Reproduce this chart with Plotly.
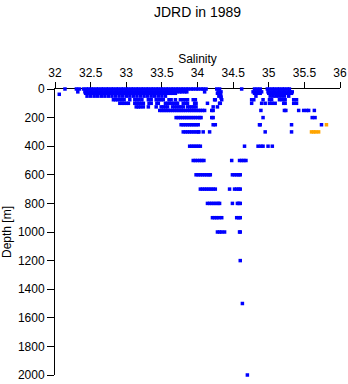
import plotly.graph_objects as go

# Salinity readings per sampling depth (m), JDRD cruise 1989
sal_0 = [32.14, 32.30, 32.34, 32.40, 32.44, 32.47, 32.51, 32.54, 32.58, 32.61, 32.65, 32.68,
         32.72, 32.75, 32.79, 32.82, 32.86, 32.89, 32.93, 32.96, 33.00, 33.03, 33.07, 33.10,
         33.14, 33.17, 33.21, 33.24, 33.28, 33.31, 33.35, 33.38, 33.42, 33.45, 33.49, 33.52,
         33.56, 33.59, 33.63, 33.66, 33.70, 33.73, 33.77, 33.80, 33.84, 33.87, 33.91, 33.94,
         33.98, 34.01, 34.05, 34.08, 34.12, 34.27, 34.31, 34.62, 34.80, 34.84, 34.88, 34.98,
         35.01, 35.05, 35.08, 35.12, 35.15, 35.19, 35.22, 35.26, 35.29]
sal_20 = [32.32, 32.42, 32.45, 32.49, 32.52, 32.56, 32.59, 32.63, 32.66, 32.70, 32.73, 32.77,
          32.80, 32.84, 32.87, 32.91, 32.94, 32.98, 33.01, 33.05, 33.08, 33.12, 33.15, 33.19,
          33.22, 33.26, 33.29, 33.33, 33.36, 33.40, 33.43, 33.47, 33.50, 33.54, 33.57, 33.61,
          33.64, 33.68, 33.71, 33.75, 33.78, 33.82, 33.85, 34.10, 34.29, 34.33, 34.78, 34.82,
          34.86, 34.90, 34.99, 35.02, 35.06, 35.09, 35.13, 35.16, 35.20, 35.23, 35.27, 35.30, 35.33]
sal_30 = [32.43, 32.46, 32.50, 32.53, 32.57, 32.60, 32.64, 32.67, 32.71, 32.74, 32.78, 32.81,
          32.85, 32.88, 32.92, 32.95, 32.99, 33.02, 33.06, 33.09, 33.13, 33.16, 33.20, 33.23,
          33.27, 33.30, 33.34, 33.37, 33.41, 33.44, 33.48, 33.51, 33.55, 33.58, 33.62, 33.65,
          33.69, 34.28, 34.32, 34.80, 34.84, 34.88, 35.00, 35.04, 35.07, 35.11, 35.14, 35.18,
          35.21, 35.25, 35.28, 35.32]
sal_37 = [32.06]
sal_50 = [32.45, 32.50, 32.55, 32.60, 32.65, 32.70, 32.75, 32.80, 32.85, 32.90, 32.95, 33.00,
          33.05, 33.10, 33.15, 33.20, 33.25, 33.30, 33.35, 33.40, 33.45, 33.50, 33.55, 34.30,
          34.33, 34.82, 35.02, 35.06, 35.10, 35.14, 35.18, 35.22, 35.28]
sal_62 = [34.33]
sal_75 = [32.82, 32.85, 32.88, 32.91, 32.94, 32.97, 33.05, 33.12, 33.15, 33.18, 33.22, 33.31,
          33.35, 33.42, 33.46, 33.49, 33.52, 33.60, 33.63, 33.69, 33.76, 33.80, 33.84, 33.86,
          33.94, 33.97, 34.24, 34.25, 34.34, 34.76, 34.79, 34.92, 35.01, 35.04, 35.15, 35.19,
          35.23, 35.35, 35.39]
sal_100 = [32.91, 32.94, 32.97, 33.00, 33.03, 33.12, 33.15, 33.18, 33.21, 33.24, 33.32, 33.35,
           33.43, 33.45, 33.55, 33.58, 33.61, 33.64, 33.67, 33.70, 33.72, 33.80, 33.83, 33.86,
           33.96, 33.98, 34.14, 34.31, 34.32, 34.76, 34.90, 34.95, 35.01, 35.05, 35.09, 35.21,
           35.23, 35.35, 35.39]
sal_125 = [33.14, 33.17, 33.20, 33.24, 33.31, 33.42, 33.49, 33.52, 33.55, 33.58, 33.65, 33.68,
           33.71, 33.74, 33.77, 33.80, 33.86, 33.89, 33.92, 33.95, 33.98, 34.22, 34.28]
sal_150 = [33.47, 33.50, 33.53, 33.56, 33.59, 33.62, 33.65, 33.68, 33.71, 33.74, 33.77, 33.80,
           33.83, 33.86, 33.89, 33.92, 33.95, 33.98, 34.01, 34.04, 34.07, 34.10, 34.20, 34.22,
           34.89, 35.22, 35.24, 35.42, 35.49, 35.53, 35.56, 35.64]
sal_200 = [33.70, 33.73, 33.76, 33.79, 33.82, 33.85, 33.88, 33.91, 33.94, 33.97, 34.00, 34.03,
           34.05, 34.20, 34.22, 34.92, 35.61, 35.65]
sal_250 = [33.77, 33.80, 33.83, 33.86, 33.89, 33.92, 33.95, 33.98, 34.01, 34.22, 34.25, 34.87,
           34.88, 35.32, 35.74]
sal_300 = [33.80, 33.83, 33.86, 33.89, 33.92, 33.95, 33.98, 34.01, 34.02, 34.08, 34.17, 34.95,
           35.32]
sal_400 = [33.89, 33.92, 33.95, 33.98, 34.01, 34.04, 34.66, 34.85, 34.89, 34.92, 34.99, 35.05]
sal_500 = [33.94, 33.97, 34.00, 34.03, 34.06, 34.09, 34.48, 34.59, 34.62, 34.65, 34.68]
sal_600 = [33.98, 34.01, 34.04, 34.07, 34.10, 34.13, 34.16, 34.18, 34.49, 34.52, 34.55, 34.58,
           34.60]
sal_700 = [34.04, 34.07, 34.10, 34.13, 34.16, 34.19, 34.22, 34.25, 34.45, 34.52, 34.55, 34.58,
           34.60]
sal_800 = [34.14, 34.17, 34.20, 34.23, 34.26, 34.29, 34.31, 34.49, 34.56, 34.58, 34.60]
sal_900 = [34.21, 34.24, 34.27, 34.30, 34.34, 34.55, 34.58, 34.60]
sal_1000 = [34.28, 34.31, 34.34, 34.38, 34.59, 34.60]
sal_1200 = [34.60]
sal_1500 = [34.63]
sal_2000 = [34.70]

# Flagged samples shown in orange
flag_sal_250 = [35.81]
flag_sal_300 = [35.60, 35.63, 35.66, 35.70]

x_ticks = [32, 32.5, 33, 33.5, 34, 34.5, 35, 35.5, 36]
x_labels = ["32", "32.5", "33", "33.5", "34", "34.5", "35", "35.5", "36"]
y_ticks = [0, 200, 400, 600, 800, 1000, 1200, 1400, 1600, 1800, 2000]

blue_rows = [
    (0, sal_0), (20, sal_20), (30, sal_30), (37, sal_37), (50, sal_50), (62, sal_62),
    (75, sal_75), (100, sal_100), (125, sal_125), (150, sal_150), (200, sal_200),
    (250, sal_250), (300, sal_300), (400, sal_400), (500, sal_500), (600, sal_600),
    (700, sal_700), (800, sal_800), (900, sal_900), (1000, sal_1000), (1200, sal_1200),
    (1500, sal_1500), (2000, sal_2000),
]
flag_rows = [(250, flag_sal_250), (300, flag_sal_300)]


def flatten(rows):
    xs, ys = [], []
    for depth, sals in rows:
        xs.extend(sals)
        ys.extend([depth] * len(sals))
    return xs, ys


bx, by = flatten(blue_rows)
ox, oy = flatten(flag_rows)

family = "Liberation Sans, Arial, sans-serif"
font = dict(family=family, size=12, color="black")

fig = go.Figure()
fig.add_trace(go.Scatter(x=bx, y=by, mode="markers", cliponaxis=False,
                         marker=dict(symbol="square", size=3.5, color="#0000ff", line=dict(width=0))))
fig.add_trace(go.Scatter(x=ox, y=oy, mode="markers", cliponaxis=False,
                         marker=dict(symbol="square", size=3.5, color="#ffa500", line=dict(width=0))))

fig.update_layout(
    width=348, height=384,
    margin=dict(l=55, r=8, t=89, b=9),
    paper_bgcolor="white", plot_bgcolor="white",
    showlegend=False,
    font=font,
    title=dict(text="JDRD in 1989", x=0.5, xref="paper", xanchor="center",
               y=1 - 12 / 384, yref="container", yanchor="middle",
               font=dict(family=family, size=14, color="black")),
    xaxis=dict(side="top", range=[32, 36], tickmode="array", tickvals=x_ticks, ticktext=x_labels,
               ticks="outside", ticklen=6, tickcolor="black", showline=True, linecolor="black",
               linewidth=1, showgrid=False, zeroline=False, layer="below traces",
               automargin=False, tickfont=font,
               title=dict(text="Salinity", standoff=0, font=font)),
    yaxis=dict(range=[2000, 0], tickmode="array", tickvals=y_ticks,
               ticks="outside", ticklen=7, tickcolor="black", showline=True, linecolor="black",
               linewidth=1, showgrid=False, zeroline=False, layer="below traces",
               automargin=False, tickfont=font,
               title=dict(text="Depth [m]", standoff=6, font=font)),
)

fig.write_html("out.html")
